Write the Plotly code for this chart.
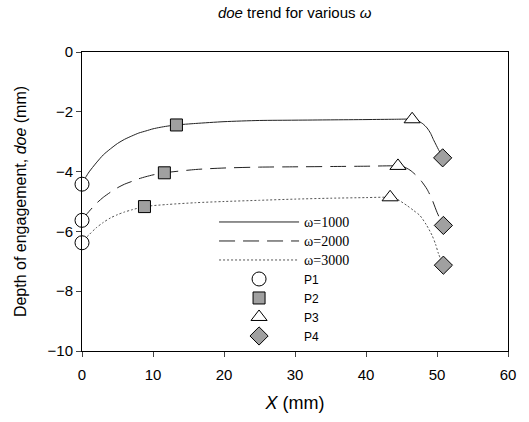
import plotly.graph_objects as go

# Marker points (P1..P4) per omega
px_1000 = [0, 13.3, 46.5, 50.8]
py_1000 = [-4.42, -2.44, -2.25, -3.54]
px_2000 = [0, 11.6, 44.5, 50.9]
py_2000 = [-5.63, -4.04, -3.81, -5.80]
px_3000 = [0, 8.8, 43.4, 50.9]
py_3000 = [-6.38, -5.17, -4.86, -7.13]

# Curve points
cx_1000 = [0, 0.5, 1, 2, 3, 4, 5, 6, 7, 8, 9, 10, 11, 12, 13.3, 16, 20, 25, 30, 35, 40, 44, 46.5,
           47.3, 48.0, 48.6, 49.1, 49.5, 49.9, 50.2, 50.8]
cy_1000 = [-4.42, -4.20, -4.01, -3.71, -3.44, -3.24, -3.06, -2.92, -2.81, -2.71, -2.64, -2.57, -2.52, -2.48, -2.44,
           -2.39, -2.33, -2.29, -2.28, -2.27, -2.26, -2.25, -2.25,
           -2.30, -2.40, -2.54, -2.72, -2.93, -3.12, -3.26, -3.54]
cx_2000 = [0, 0.5, 1, 2, 3, 4, 5, 6, 7, 8, 9, 10, 11.6, 16, 20, 25, 30, 35, 40, 44.5,
           45.3, 46.2, 46.9, 47.8, 48.6, 49.3, 50.0, 50.5, 50.9]
cy_2000 = [-5.63, -5.47, -5.33, -5.07, -4.86, -4.69, -4.54, -4.42, -4.33, -4.24, -4.17, -4.11, -4.04,
           -3.93, -3.88, -3.85, -3.84, -3.83, -3.82, -3.81,
           -3.84, -3.95, -4.09, -4.32, -4.59, -4.93, -5.36, -5.62, -5.80]
cx_3000 = [0, 0.5, 1, 2, 3, 4, 5, 6, 7, 8.8, 12, 16, 20, 25, 30, 35, 40, 43.4,
           44.2, 45.8, 46.7, 47.6, 48.5, 49.3, 49.8, 50.2, 50.9]
cy_3000 = [-6.38, -6.23, -6.11, -5.88, -5.70, -5.55, -5.44, -5.35, -5.28, -5.17, -5.10, -5.04, -5.00, -4.96,
           -4.92, -4.89, -4.87, -4.86,
           -4.90, -5.14, -5.30, -5.47, -5.78, -6.13, -6.43, -6.74, -7.13]

line_names = ["ω=1000", "ω=2000", "ω=3000"]
point_names = ["P1", "P2", "P3", "P4"]

x_ticks = [0, 10, 20, 30, 40, 50, 60]
y_ticks = [0, -2, -4, -6, -8, -10]

fig = go.Figure()

serif = "font-family:'Liberation Serif',serif;font-size:14px"
dashes = ["solid", "16px,8px", "2px,2px"]
colors = ["#222", "#222", "#555"]
curves = [(cx_1000, cy_1000), (cx_2000, cy_2000), (cx_3000, cy_3000)]
for (cx, cy), nm, dsh, col in zip(curves, line_names, dashes, colors):
    fig.add_trace(go.Scatter(
        x=cx, y=cy, mode="lines", name=f"<span style=\"{serif}\">{nm}</span>",
        line=dict(color=col, width=1, dash=dsh, shape="spline", smoothing=0.7),
        cliponaxis=False))

sym = [("circle", "white", 14), ("square", "#a0a0a0", 12), ("triangle-up", "white", 14), ("diamond", "#a0a0a0", 14)]
allx = [px_1000, px_2000, px_3000]
ally = [py_1000, py_2000, py_3000]
for i, nm in enumerate(point_names):
    s, c, sz = sym[i]
    fig.add_trace(go.Scatter(
        x=[a[i] for a in allx], y=[a[i] for a in ally], mode="markers", name=nm,
        marker=dict(symbol=s, color=c, size=sz, line=dict(color="black", width=1)),
        cliponaxis=False))

fig.update_layout(
    width=529, height=422,
    margin=dict(l=82, r=21, t=52, b=69),
    paper_bgcolor="white", plot_bgcolor="white",
    font=dict(family="Liberation Sans, Arial, sans-serif", size=15, color="black"),
    title=dict(text="<i>doe</i> trend for various <i>ω</i>", x=0.557, xanchor="center",
               y=0.97, yanchor="middle", font=dict(size=15)),
    showlegend=True,
    legend=dict(x=0.31, y=0.48, xanchor="left", yanchor="top", bgcolor="rgba(0,0,0,0)",
                font=dict(size=12), tracegroupgap=0, itemwidth=80),
)
fig.update_xaxes(range=[0, 60], tickvals=x_ticks, ticks="outside", ticklen=5,
                 ticklabelstandoff=5,
                 showline=True, linecolor="black", linewidth=1, mirror=True,
                 showgrid=False, zeroline=False,
                 title=dict(text="<i>X</i> (mm)", font=dict(size=18), standoff=14))
fig.update_yaxes(range=[-10, 0], tickvals=y_ticks, ticks="outside", ticklen=5,
                 showline=True, linecolor="black", linewidth=1, mirror=True,
                 showgrid=False, zeroline=False,
                 title=dict(text="Depth of engagement, <i>doe</i> (mm)", font=dict(size=16), standoff=16))

fig.write_html("out.html")
